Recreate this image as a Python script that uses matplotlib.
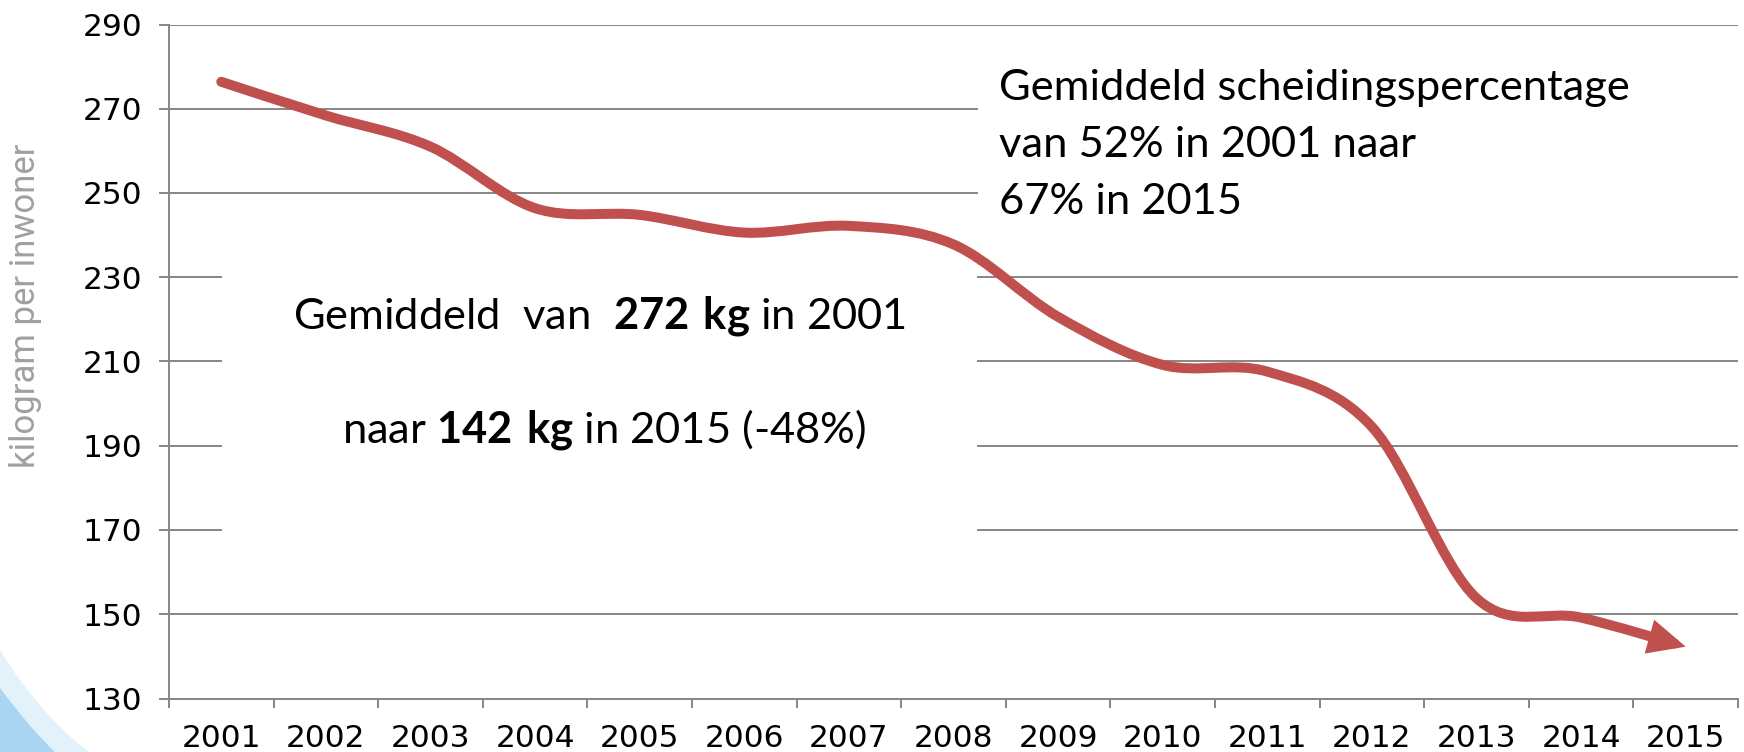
import numpy as np
import matplotlib
matplotlib.use("Agg")
import matplotlib.pyplot as plt
from matplotlib.path import Path
from matplotlib.patches import FancyArrowPatch, Rectangle, PathPatch, ArrowStyle

# ---------------- data ----------------
years = ['2001', '2002', '2003', '2004', '2005', '2006', '2007', '2008',
         '2009', '2010', '2011', '2012', '2013', '2014', '2015']
kg_per_inwoner = [276.4, 268.4, 261.0, 246.4, 244.8, 240.6, 242.2, 237.8,
                  220.6, 209.2, 207.6, 194.5, 153.8, 149.2, 142.3]
y_ticks = [130, 150, 170, 190, 210, 230, 250, 270, 290]
y_label = 'kilogram per inwoner'

W, H = 1744, 752
plt.rcParams['mathtext.fontset'] = 'custom'
plt.rcParams['mathtext.rm'] = 'Lato'
plt.rcParams['mathtext.bf'] = 'Lato:bold'

fig = plt.figure(figsize=(W / 100, H / 100), dpi=100)
fig.patch.set_facecolor('white')


def fx(x):
    return x / W


def fy(y):
    return 1 - y / H


# decorative light-blue swoosh in the lower-left corner
pale = Path([(fx(0), fy(650)), (fx(30), fy(700)), (fx(70), fy(740)), (fx(90), fy(752)),
             (fx(0), fy(752)), (fx(0), fy(650))],
            [Path.MOVETO, Path.CURVE4, Path.CURVE4, Path.CURVE4, Path.LINETO, Path.CLOSEPOLY])
fig.patches.append(PathPatch(pale, transform=fig.transFigure, facecolor='#e3f1fb',
                             edgecolor='none', zorder=0))
blue = Path([(fx(0), fy(688)), (fx(20), fy(715)), (fx(40), fy(738)), (fx(55), fy(752)),
             (fx(0), fy(752)), (fx(0), fy(688))],
            [Path.MOVETO, Path.CURVE4, Path.CURVE4, Path.CURVE4, Path.LINETO, Path.CLOSEPOLY])
fig.patches.append(PathPatch(blue, transform=fig.transFigure, facecolor='#a9d4f2',
                             edgecolor='none', zorder=0))

ax = fig.add_axes([169 / W, 1 - 698.5 / H, (1738 - 169) / W, (698.5 - 24.5) / H])
ax.set_facecolor('none')

grid_c = '#868686'
n = len(years)
x = np.arange(n)
ax.set_xlim(-0.5, n - 0.5)
ax.set_ylim(y_ticks[0], y_ticks[-1])

ax.set_yticks(y_ticks)
ax.set_yticklabels([str(v) for v in y_ticks])
ax.set_xticks(np.arange(n + 1) - 0.5)
ax.set_xticklabels([])
ax.set_xticks(x, minor=True)
ax.set_xticklabels(years, minor=True)

for s in ['top', 'right']:
    ax.spines[s].set_visible(False)
for s in ['left', 'bottom']:
    ax.spines[s].set_color(grid_c)
    ax.spines[s].set_linewidth(1.4)

ax.yaxis.grid(True, color=grid_c, linewidth=1.4)
ax.set_axisbelow(True)
ax.tick_params(axis='y', which='major', direction='out', length=7.2, width=1.4,
               color=grid_c, pad=12, labelsize=22.5, labelcolor='black')
ax.tick_params(axis='x', which='major', direction='out', length=6.5, width=1.4,
               color=grid_c)
ax.tick_params(axis='x', which='minor', length=0, pad=18.5, labelsize=22.5,
               labelcolor='black')

# white text boxes (covering gridlines) -- layout in figure pixels
ax.add_patch(Rectangle((fx(222), fy(565)), (977 - 222) / W, (565 - 262) / H,
                       transform=fig.transFigure, facecolor='white', edgecolor='none',
                       zorder=1.5, clip_on=False))
ax.add_patch(Rectangle((fx(978), fy(245)), (W - 978) / W, (245 - 55) / H,
                       transform=fig.transFigure, facecolor='white', edgecolor='none',
                       zorder=1.5, clip_on=False))

# smoothed line (Bezier through the data points) with arrow head
pts = np.column_stack([x, kg_per_inwoner]).astype(float)
verts = [tuple(pts[0])]
codes = [Path.MOVETO]
for i in range(n - 1):
    p0 = pts[max(i - 1, 0)]
    p1 = pts[i]
    p2 = pts[i + 1]
    p3 = pts[min(i + 2, n - 1)]
    c1 = p1 + (p2 - p0) / 6.0
    c2 = p2 - (p3 - p1) / 6.0
    verts += [tuple(c1), tuple(c2), tuple(p2)]
    codes += [Path.CURVE4] * 3
curve = Path(verts, codes)
arrow = FancyArrowPatch(path=curve,
                        arrowstyle=ArrowStyle('-|>', head_length=15, head_width=7),
                        mutation_scale=1, linewidth=7.2, color='#c0504d',
                        capstyle='round', joinstyle='miter', zorder=4)
ax.add_patch(arrow)

# texts
fig.text(fx(26), fy(306), y_label, rotation=90, ha='center', va='center',
         fontsize=25, color='#a0a0a0', family='Roboto')

tkw = dict(family='Lato', fontsize=31.3, color='black', zorder=5)
fig.text(fx(599), fy(328), r'Gemiddeld  van  $\mathbf{272\ kg}$ in 2001',
         ha='center', va='baseline', **tkw)
fig.text(fx(604), fy(443), r'naar $\mathbf{142\ kg}$ in 2015 (-48%)',
         ha='center', va='baseline', **tkw)
fig.text(fx(999), fy(100), 'Gemiddeld scheidingspercentage', ha='left', va='baseline', **tkw)
fig.text(fx(999), fy(157), 'van 52% in 2001 naar', ha='left', va='baseline', **tkw)
fig.text(fx(999), fy(214), '67% in 2015', ha='left', va='baseline', **tkw)

fig.savefig('out.png', dpi=100, facecolor='white')
